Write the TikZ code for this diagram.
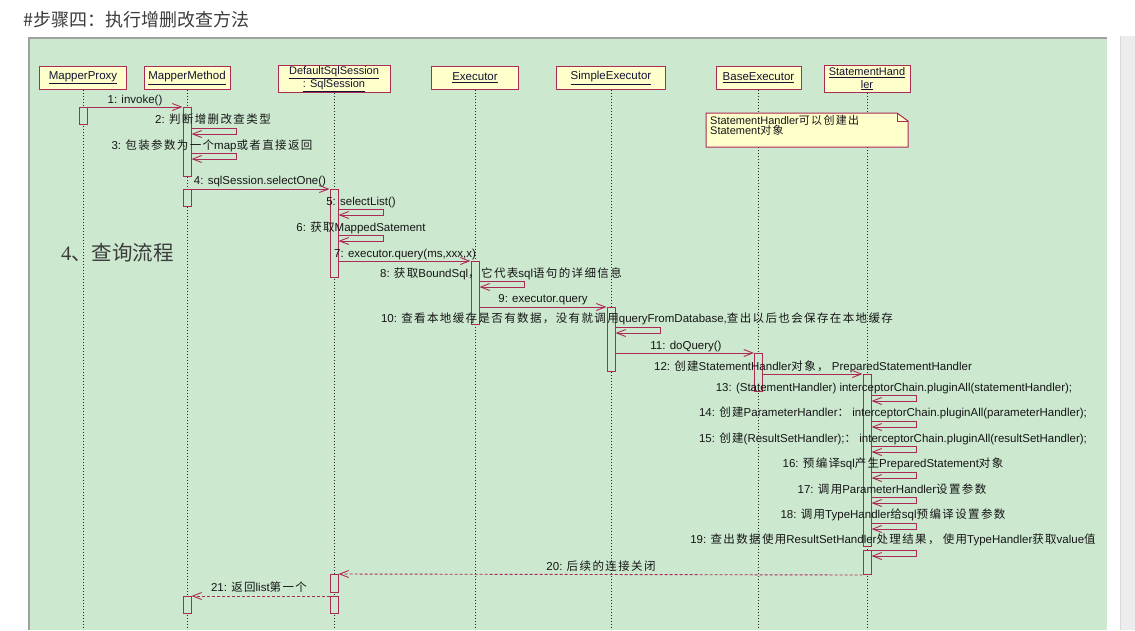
\documentclass[tikz,border=0pt]{standalone}
\usepackage{fontspec}
\setmainfont{Liberation Sans}
\newfontfamily\cjk[LetterSpace=12]{Noto Sans CJK SC}
\newfontfamily\cjkplain{Noto Sans CJK SC}
\newfontfamily\serifnum{Liberation Serif}
\usetikzlibrary{arrows.meta}
\definecolor{bggreen}{RGB}{204,232,207}
\definecolor{boxyellow}{RGB}{255,255,204}
\definecolor{crim}{RGB}{172,42,86}
\definecolor{txt}{RGB}{22,22,22}
\definecolor{hdrtxt}{RGB}{20,20,50}
\definecolor{titlegray}{RGB}{60,60,60}
\definecolor{frame}{RGB}{160,160,160}
\definecolor{strip}{RGB}{236,236,236}
\newcommand{\zh}[1]{{\cjk #1}}
\newcommand{\selfcall}[2]{\draw[msg] (#1.east |- 0,#2) -- ++(45,0) -- ++(0,6) -- ++(-45,0);}
\tikzset{
  lifehead/.style={draw=crim, line width=1pt, fill=boxyellow, anchor=north, inner sep=1pt,
    minimum height=23pt, align=center, text=hdrtxt, font=\fontsize{11.5}{11.5}\selectfont},
  twoline/.style={minimum height=27pt, font=\fontsize{11}{12.5}\selectfont},
  lifeline/.style={draw=black!85, line width=0.8pt, dash pattern=on 1pt off 2pt},
  act/.style={draw=crim, line width=1pt, fill=bggreen, minimum width=8pt, inner sep=0pt, anchor=north},
  msg/.style={draw=crim, line width=0.9pt, -{Straight Barb[length=9pt,width=7pt]}},
  ret/.style={msg, dash pattern=on 3pt off 2pt},
  lbl/.style={inner sep=0pt, anchor=base, text=txt, font=\fontsize{11.5}{12}\selectfont},
  notebox/.style={draw=crim, line width=1pt, fill=boxyellow}
}
\begin{document}
\begin{tikzpicture}[x=1pt,y=-1pt]
\useasboundingbox (0,0) rectangle (1135,630);
\fill[white] (0,0) rectangle (1135,630);
% panel
\fill[bggreen] (29,38) rectangle (1107,630);
\draw[frame, line width=1.5pt] (29,630) -- (29,38) -- (1107,38);
\fill[strip] (1120,36) rectangle (1135,630);
\draw[black!15, line width=1pt] (1120,36) -- (1120,630);
% title
\node[anchor=west, inner sep=0pt, text=titlegray, font=\cjkplain\fontsize{18}{18}\selectfont] (title) at (23,20) {\#步骤四：执行增删改查方法};
% header boxes
\node[lifehead, minimum width=87pt] (hPX) at (83,66) {\underline{MapperProxy}};
\node[lifehead, minimum width=86pt] (hMM) at (187,66) {\underline{MapperMethod}};
\node[lifehead, twoline, minimum width=112pt] (hDS) at (334,65) {\underline{DefaultSqlSession}\\\underline{: SqlSession}};
\node[lifehead, minimum width=87pt] (hEX) at (475,66) {\underline{Executor}};
\node[lifehead, minimum width=109pt] (hSE) at (611,66) {\underline{SimpleExecutor}};
\node[lifehead, minimum width=85pt] (hBE) at (758.5,66) {\underline{BaseExecutor}};
\node[lifehead, twoline, minimum width=86pt] (hSH) at (867,65) {\underline{StatementHand}\\\underline{ler}};
% lifelines
\foreach \h in {hPX,hMM,hDS,hEX,hSE,hBE,hSH}{
  \draw[lifeline] (\h.south) -- (\h.south |- 0,630);
}
% note
\node[notebox, minimum width=201pt, minimum height=33pt, anchor=north west, draw=none, fill=none] (notebg) at (706,113) {};
\draw[notebox] (notebg.north west) -- ([xshift=-11pt]notebg.north east) -- ([yshift=-8pt]notebg.north east) -- (notebg.south east) -- (notebg.south west) -- cycle;
\draw[crim, line width=0.8pt] ([xshift=-11pt]notebg.north east) -- ([xshift=-11pt,yshift=-8pt]notebg.north east) -- ([yshift=-8pt]notebg.north east);
\node[anchor=north west, inner sep=0pt, align=left, text=txt, font=\fontsize{11}{10.5}\selectfont] (notetext) at (710,115) {StatementHandler\zh{可以创建出}\\Statement\zh{对象}};
% activations
\node[act, minimum height=17pt] (aPX) at (83,107) {};
\node[act, minimum height=69pt] (aMM1) at (187,107) {};
\node[act, minimum height=17pt] (aMM2) at (187,189) {};
\node[act, minimum height=17pt] (aMM3) at (187,596) {};
\node[act, minimum height=88pt] (aDS1) at (334,189) {};
\node[act, minimum height=18pt] (aDS2) at (334,574) {};
\node[act, minimum height=17pt] (aDS3) at (334,596) {};
\node[act, minimum height=63pt] (aEX) at (475,261) {};
\node[act, minimum height=64pt] (aSE) at (611,307) {};
\node[act, minimum height=38pt] (aBE) at (758.5,353) {};
\node[act, minimum height=172pt] (aSH1) at (867,374) {};
\node[act, minimum height=24pt] (aSH2) at (867,550) {};
% messages
\draw[msg] (aPX.north east) -- (aMM1.north west);
\selfcall{aMM1}{128}
\selfcall{aMM1}{153}
\draw[msg] (aMM2.north east) -- (aDS1.north west);
\selfcall{aDS1}{209}
\selfcall{aDS1}{235}
\draw[msg] (aDS1.east |- aEX.north) -- (aEX.north west);
\selfcall{aEX}{281}
\draw[msg] (aEX.east |- aSE.north) -- (aSE.north west);
\selfcall{aSE}{327}
\draw[msg] (aSE.east |- aBE.north) -- (aBE.north west);
\draw[msg] (aBE.east |- aSH1.north) -- (aSH1.north west);
\selfcall{aSH1}{395}
\selfcall{aSH1}{421}
\selfcall{aSH1}{446}
\selfcall{aSH1}{472}
\selfcall{aSH1}{497}
\selfcall{aSH1}{523}
\selfcall{aSH2}{550}
\draw[ret] (aSH2.south west) -- (aDS2.north east);
\draw[ret] (aDS3.north west) -- (aMM3.north east);
% labels
\node[lbl] (l1) at (135,103) {1: invoke()};
\node[lbl] (l2) at (213,123) {2: \zh{判断增删改查类型}};
\node[lbl] (l3) at (212,149) {3: \zh{包装参数为一个}map\zh{或者直接返回}};
\node[lbl] (l4) at (260,184) {4: sqlSession.selectOne()};
\node[lbl] (l5) at (361,205) {5: selectList()};
\node[lbl] (l6) at (361,231) {6: \zh{获取}MappedSatement};
\node[lbl] (l7) at (405,257) {7: executor.query(ms,xxx,x)};
\node[lbl] (l8) at (501,277) {8: \zh{获取}BoundSql\zh{，它代表}sql\zh{语句的详细信息}};
\node[lbl] (l9) at (543,302) {9: executor.query};
\node[lbl] (l10) at (637,322) {10: \zh{查看本地缓存是否有数据，没有就调用}queryFromDatabase,\zh{查出以后也会保存在本地缓存}};
\node[lbl] (l11) at (686,349) {11: doQuery()};
\node[lbl] (l12) at (813,370) {12: \zh{创建}StatementHandler\zh{对象，} PreparedStatementHandler};
\node[lbl] (l13) at (894,391) {13: (StatementHandler) interceptorChain.pluginAll(statementHandler);};
\node[lbl] (l14) at (893,416) {14: \zh{创建}ParameterHandler\zh{：} interceptorChain.pluginAll(parameterHandler);};
\node[lbl] (l15) at (893,442) {15: \zh{创建}(ResultSetHandler);\zh{：} interceptorChain.pluginAll(resultSetHandler);};
\node[lbl] (l16) at (893,467) {16: \zh{预编译}sql\zh{产生}PreparedStatement\zh{对象}};
\node[lbl] (l17) at (892,493) {17: \zh{调用}ParameterHandler\zh{设置参数}};
\node[lbl] (l18) at (893,518) {18: \zh{调用}TypeHandler\zh{给}sql\zh{预编译设置参数}};
\node[lbl] (l19) at (893,543) {19: \zh{查出数据使用}ResultSetHandler\zh{处理结果，} \zh{使用}TypeHandler\zh{获取}value\zh{值}};
\node[lbl] (l20) at (601,570) {20: \zh{后续的连接关闭}};
\node[lbl] (l21) at (259,591) {21: \zh{返回}list\zh{第一个}};
% big label
\node[anchor=west, inner sep=0pt, text=titlegray] (big) at (61,253) {{\serifnum\fontsize{20.5}{20.5}\selectfont 4}{\cjkplain\fontsize{20.5}{20.5}\selectfont 、查询流程}};
\end{tikzpicture}
\end{document}
